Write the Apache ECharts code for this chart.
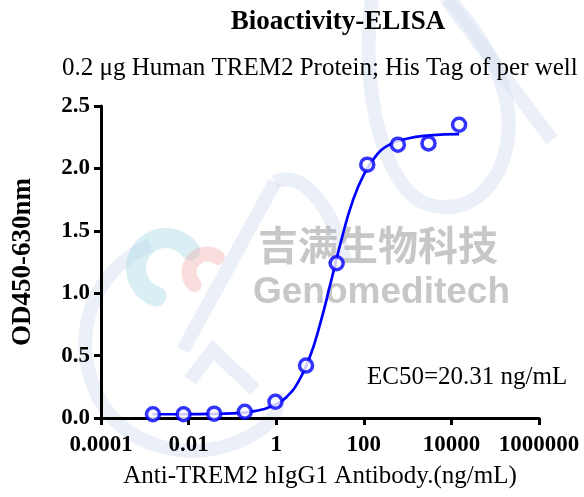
<!DOCTYPE html>
<html>
<head>
<meta charset="utf-8">
<script src="https://cdn.jsdelivr.net/npm/echarts@6/dist/echarts.min.js"></script>
<style>html,body{margin:0;padding:0;background:#fff;}#c{width:584px;height:497px;}</style>
</head>
<body>
<div id="c"></div>
<script>
// Measured points (concentration ng/mL, OD450-630)
var concentrations = [15000, 3000, 600, 120, 24, 4.8, 0.96, 0.192, 0.0384, 0.00768, 0.001536];
var odValues = [2.35, 2.20, 2.19, 2.03, 1.24, 0.42, 0.13, 0.05, 0.035, 0.03, 0.03];
// Fitted curve
var curveX = [0.0015, 0.01, 0.03, 0.1, 0.3, 1, 1.8, 3.2, 5.6, 10, 18, 32, 56, 100, 180, 320, 1000, 3200, 15000];
var curveY = [0.030, 0.031, 0.033, 0.037, 0.053, 0.11, 0.175, 0.29, 0.47, 0.75, 1.10, 1.45, 1.74, 1.95, 2.09, 2.175, 2.24, 2.265, 2.275];
var xTickLabels = ['0.0001', '0.01', '1', '100', '10000', '1000000'];
var yTicks = ['0.0', '0.5', '1.0', '1.5', '2.0', '2.5'];
var titleText = 'Bioactivity-ELISA';
var subtitleText = '0.2 \u03bcg Human TREM2 Protein; His Tag of per well';
var ec50Text = 'EC50=20.31 ng/mL';

var chart = echarts.init(document.getElementById('c'), null, {renderer: 'canvas'});
var serif = '"Liberation Serif", "Times New Roman", serif';
var blue = '#0000ff';
var wm = 'rgba(215,225,242,0.5)';

function bz(x1, y1, c1x, c1y, c2x, c2y, x2, y2) {
  return {type: 'bezierCurve', shape: {x1: x1, y1: y1, cpx1: c1x, cpy1: c1y, cpx2: c2x, cpy2: c2y, x2: x2, y2: y2},
    style: {stroke: wm, fill: null, lineWidth: 14}, z: 0, silent: true};
}
function ln(pts) {
  return {type: 'polyline', shape: {points: pts}, style: {stroke: wm, fill: null, lineWidth: 14}, z: 0, silent: true};
}

var decor = [
  bz(372, 0, 360, 80, 380, 190, 430, 205),
  bz(430, 205, 490, 220, 520, 150, 505, 95),
  bz(505, 95, 490, 40, 450, 0, 440, -10),
  ln([[447, 0], [552, 140]]),
  ln([[183, 350], [275, 182]]),
  bz(275, 182, 300, 170, 330, 200, 345, 260),
  bz(150, 245, 95, 270, 70, 330, 95, 390),
  bz(95, 390, 120, 450, 200, 470, 260, 430),
  bz(260, 430, 275, 420, 280, 405, 276, 395),
  ln([[190, 380], [213, 350], [255, 390]])
];

chart.setOption({
  animation: false,
  backgroundColor: '#fff',
  graphic: decor.concat([
    // logo approximation
    {type: 'arc', shape: {cx: 166, cy: 268, r: 30, startAngle: Math.PI * 0.6, endAngle: Math.PI * 1.8, clockwise: true}, style: {stroke: 'rgba(160,215,225,0.4)', fill: null, lineWidth: 20, lineCap: 'round'}, z: 1, silent: true},
    {type: 'arc', shape: {cx: 207, cy: 272, r: 18, startAngle: Math.PI * 0.75, endAngle: Math.PI * 1.7, clockwise: true}, style: {stroke: 'rgba(240,160,160,0.35)', fill: null, lineWidth: 15, lineCap: 'round'}, z: 1, silent: true},
    {type: 'text', x: 258, y: 245, style: {text: '吉满生物科技', font: 'bold 40px "Noto Sans CJK SC"', fill: 'rgba(165,165,165,0.62)', verticalAlign: 'middle'}, z: 1, silent: true},
    {type: 'text', x: 253, y: 293, style: {text: 'Genomeditech', font: 'bold 37px "Liberation Sans", Arial, sans-serif', fill: 'rgba(165,165,165,0.62)', verticalAlign: 'middle'}, z: 1, silent: true},
    // texts
    {type: 'text', x: 338, y: 22, style: {text: titleText, font: 'bold 27px ' + serif, fill: '#000', align: 'center', verticalAlign: 'middle'}, z: 10},
    {type: 'text', x: 62, y: 68, style: {text: subtitleText, font: '25px ' + serif, fill: '#000', align: 'left', verticalAlign: 'middle'}, z: 10},
    {type: 'text', x: 367, y: 377, style: {text: ec50Text, font: '25px ' + serif, fill: '#000', align: 'left', verticalAlign: 'middle'}, z: 10}
  ]),
  grid: {left: 101, right: 45, top: 106, bottom: 79, containLabel: false},
  xAxis: {
    type: 'log', logBase: 10, min: 0.0001, max: 1000000, interval: 2,
    name: 'Anti-TREM2 hIgG1 Antibody.(ng/mL)', nameLocation: 'middle', nameGap: 46,
    nameTextStyle: {fontFamily: serif, fontSize: 25, color: '#000'},
    axisLine: {lineStyle: {color: '#000', width: 3}},
    axisTick: {show: true, length: 7, lineStyle: {color: '#000', width: 3}},
    axisLabel: {fontFamily: serif, fontWeight: 'bold', fontSize: 23, color: '#000', margin: 16,
      formatter: function (v) { var e = Math.round(Math.log10(v)); return xTickLabels[(e + 4) / 2] || ''; }},
    splitLine: {show: false}, minorTick: {show: false}
  },
  yAxis: {
    type: 'value', min: 0, max: 2.5, interval: 0.5,
    name: 'OD450-630nm', nameLocation: 'middle', nameGap: 64, nameRotate: 90,
    nameTextStyle: {fontFamily: serif, fontWeight: 'bold', fontSize: 27, color: '#000'},
    axisLine: {show: true, lineStyle: {color: '#000', width: 3}},
    axisTick: {show: true, length: 7, lineStyle: {color: '#000', width: 3}},
    axisLabel: {fontFamily: serif, fontWeight: 'bold', fontSize: 23, color: '#000', margin: 11,
      formatter: function (v) { return yTicks[Math.round(v / 0.5)]; }},
    splitLine: {show: false}
  },
  series: [
    {type: 'line', data: curveX.map(function (x, i) { return [x, curveY[i]]; }), smooth: true, showSymbol: false,
      lineStyle: {color: blue, width: 2.7}, z: 5},
    {type: 'scatter', data: concentrations.map(function (x, i) { return [x, odValues[i]]; }), symbol: 'circle', symbolSize: 13,
      itemStyle: {color: '#fff', borderColor: blue, borderWidth: 3.5}, z: 6}
  ]
});
</script>
</body>
</html>
